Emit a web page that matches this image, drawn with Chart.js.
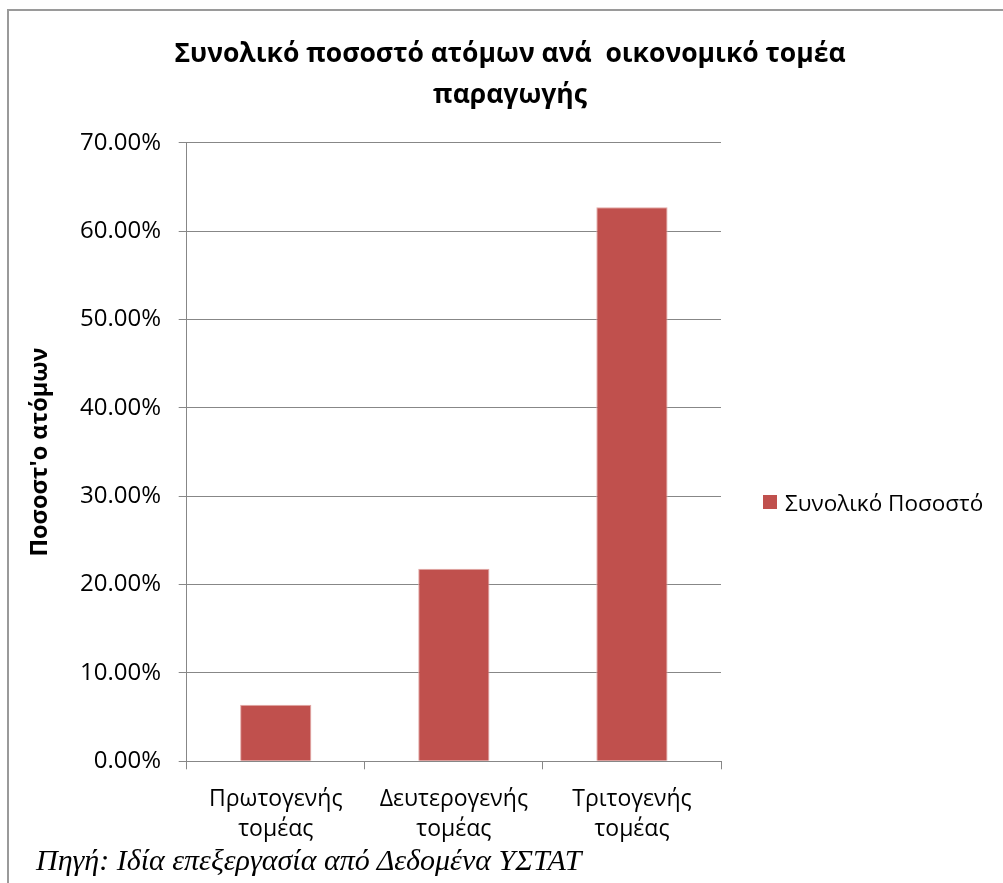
<!DOCTYPE html>
<html>
<head>
<meta charset="utf-8">
<script src="https://cdn.jsdelivr.net/npm/chart.js@4/dist/chart.umd.min.js"></script>
<style>
  html, body { margin: 0; padding: 0; background: #ffffff; overflow: hidden; }
  #wrap { position: relative; width: 1003px; height: 883px; }
  #frame { position: absolute; left: 7px; top: 9px; width: 1100px; height: 1000px;
           border-left: 2px solid #9a9a9a; border-top: 2px solid #9a9a9a; pointer-events: none; }
  canvas { position: absolute; left: 0; top: 0; }
  #title { position: absolute; left: 0; top: 31.5px; width: 1020px; text-align: center;
           font: bold 26.5px 'Open Sans', 'Noto Sans', sans-serif; line-height: 41px; color: #000; white-space: pre; }
  #legend { position: absolute; left: 763px; top: 486px; height: 32px; display: flex; align-items: center;
            font: 22.5px 'Open Sans', 'Noto Sans', sans-serif; color: #000; white-space: nowrap; }
  #legend .sw { width: 14px; height: 14px; margin-right: 8px; display: inline-block; }
  #note { position: absolute; left: 36px; top: 845px; font: italic 30px 'Liberation Serif', 'Times New Roman', serif;
          line-height: 1; color: #000; white-space: nowrap; }
</style>
</head>
<body>
<div id="wrap">
  <div id="frame"></div>
  <canvas id="c" width="1003" height="883"></canvas>
  <div id="title"></div>
  <div id="legend"></div>
  <div id="note">Πηγή: Ιδία επεξεργασία από Δεδομένα ΥΣΤΑΤ</div>
</div>
<script>
// ---- data ----
const categories = [["Πρωτογενής", "τομέας"], ["Δευτερογενής", "τομέας"], ["Τριτογενής", "τομέας"]];
const seriesName = "Συνολικό Ποσοστό";
const seriesValues = [6.4, 21.8, 62.7];
const yTicks = [0, 10, 20, 30, 40, 50, 60, 70];
const titleLines = ["Συνολικό ποσοστό ατόμων ανά  οικονομικό τομέα", "παραγωγής"];
const yTitle = "Ποσοστ'ο ατόμων";

document.getElementById('title').textContent = titleLines.join('\n');

// ---- layout ----
const FONT = "'Open Sans', 'Noto Sans', sans-serif";
const AREA_LEFT = 186.7, AREA_RIGHT = 721, AREA_TOP = 142.7, AREA_BOTTOM = 761.3, W = 1003;
const PAD_LEFT = 23;
const gridColor = '#878787';
const barColor = '#C0504D';

const chart = new Chart(document.getElementById('c'), {
  type: 'bar',
  data: {
    labels: categories,
    datasets: [{
      label: seriesName,
      data: seriesValues,
      backgroundColor: barColor,
      borderColor: '#E2A9A7',
      borderWidth: 1,
      barPercentage: 0.4,
      categoryPercentage: 1.0
    }]
  },
  options: {
    responsive: false,
    animation: false,
    devicePixelRatio: 1,
    layout: { padding: { left: PAD_LEFT, right: W - AREA_RIGHT, top: AREA_TOP, bottom: 0 } },
    plugins: {
      title: { display: false },
      legend: { display: false },
      tooltip: { enabled: false }
    },
    scales: {
      x: {
        grid: { display: true, drawOnChartArea: false, drawTicks: true, tickLength: 8, color: gridColor, lineWidth: 1, offset: true },
        border: { display: true, color: gridColor, width: 1 },
        ticks: { color: '#000', font: { family: FONT, size: 23, lineHeight: 1.3 }, padding: 15, maxRotation: 0, autoSkip: false },
        afterFit: (s) => { s.height = 883 - AREA_BOTTOM; }
      },
      y: {
        min: 0, max: 70,
        afterBuildTicks: (s) => { s.ticks = yTicks.map(v => ({ value: v })); },
        grid: { display: true, drawTicks: true, tickLength: 8, color: gridColor, lineWidth: 1 },
        border: { display: true, color: gridColor, width: 1 },
        ticks: { color: '#000', font: { family: FONT, size: 24 }, padding: 17.7,
                 callback: (v) => Number(v).toFixed(2) + '%' },
        title: { display: true, text: yTitle, color: '#000',
                 font: { family: FONT, size: 23.5, weight: 'bold', lineHeight: 1.2 },
                 padding: { top: 3, bottom: 0 } },
        afterFit: (s) => { s.width = AREA_LEFT - PAD_LEFT; }
      }
    }
  }
});

// legend built from the chart's own dataset
const leg = document.getElementById('legend');
chart.data.datasets.forEach(ds => {
  const sw = document.createElement('span');
  sw.className = 'sw';
  sw.style.background = ds.backgroundColor;
  const tx = document.createElement('span');
  tx.textContent = ds.label;
  leg.appendChild(sw);
  leg.appendChild(tx);
});
</script>
</body>
</html>
